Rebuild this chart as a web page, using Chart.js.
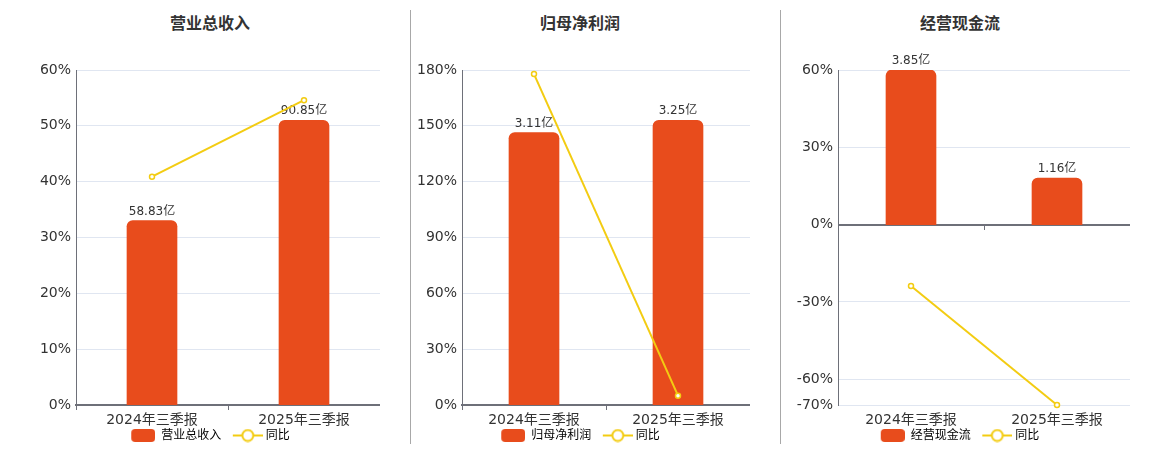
<!DOCTYPE html>
<html lang="zh">
<head>
  <meta charset="UTF-8" />
  <title>三季报财务指标</title>
  <script src="https://cdn.jsdelivr.net/npm/chart.js"></script>
  <style>
    body { margin: 0; width: 1160px; height: 450px; position: relative; background: #fff; overflow: hidden; }
    .titulo { position: absolute; top: 12px; transform: translateX(-50%); white-space: nowrap;
              font: bold 16px/20px "Noto Sans CJK SC", sans-serif; color: #333; }
    .sep { position: absolute; top: 10px; width: 1px; height: 434px; background: #a8a8a8; z-index: 2; }
    canvas { position: absolute; top: 0; }
  </style>
</head>
<body>
  <div class="titulo" style="left:210px">营业总收入</div>
  <div class="titulo" style="left:580px">归母净利润</div>
  <div class="titulo" style="left:960px">经营现金流</div>
  <div class="sep" style="left:410px"></div>
  <div class="sep" style="left:780px"></div>
  <canvas id="g1" width="351" height="450" style="left:29px"></canvas>
  <canvas id="g2" width="351" height="450" style="left:399px"></canvas>
  <canvas id="g3" width="352" height="450" style="left:778px"></canvas>

  <script>
    // datos
    const categorias = ['2024年三季报', '2025年三季报'];
    const ingresos = [58.83, 90.85];
    const ingresosYoy = [40.9, 54.6];
    const beneficio = [3.11, 3.25];
    const beneficioYoy = [177.8, 5.0];
    const flujoCaja = [3.85, 1.16];
    const flujoCajaYoy = [-23.8, -70.0];
    const ticks1 = [0, 10, 20, 30, 40, 50, 60];
    const ticks2 = [0, 30, 60, 90, 120, 150, 180];
    const ticks3 = [-70, -60, -30, 0, 30, 60];

    const COLOR_BARRA = '#e84c1c';
    const COLOR_LINEA = '#f3cc12';
    const FUENTE = '"DejaVu Sans", "Noto Sans CJK SC", sans-serif';
    Chart.defaults.font.family = FUENTE;

    function iconoBarra() {
      const c = document.createElement('canvas');
      c.width = 36; c.height = 13;
      const g = c.getContext('2d');
      g.fillStyle = COLOR_BARRA;
      g.beginPath();
      g.roundRect(12, 0, 24, 13, 4);
      g.fill();
      return c;
    }

    function iconoLinea() {
      const c = document.createElement('canvas');
      c.width = 42; c.height = 14;
      const g = c.getContext('2d');
      g.strokeStyle = COLOR_LINEA;
      g.lineWidth = 2;
      g.beginPath(); g.moveTo(12, 7); g.lineTo(42, 7); g.stroke();
      g.beginPath(); g.arc(27, 7, 5.5, 0, Math.PI * 2);
      g.fillStyle = '#fff'; g.fill(); g.stroke();
      return c;
    }

    const etiquetasBarras = {
      id: 'etiquetasBarras',
      afterDatasetDraw(chart, args) {
        if (args.index !== 0) return;
        const ctx = chart.ctx;
        ctx.save();
        ctx.font = '12px ' + FUENTE;
        ctx.fillStyle = '#333';
        ctx.textAlign = 'center';
        ctx.textBaseline = 'alphabetic';
        args.meta.data.forEach((bar, i) => {
          ctx.fillText(chart.data.datasets[0].data[i] + '亿', bar.x, bar.y - 6);
        });
        ctx.restore();
      }
    };

    const lineaCero = {
      id: 'lineaCero',
      beforeDatasetsDraw(chart, args, opts) {
        if (!opts.activo) return;
        const ctx = chart.ctx;
        const x = chart.scales.x;
        const y0 = Math.round(chart.scales.y.getPixelForValue(0));
        ctx.save();
        ctx.strokeStyle = '#6e7079';
        ctx.lineWidth = 2;
        ctx.beginPath();
        ctx.moveTo(chart.chartArea.left, y0);
        ctx.lineTo(chart.chartArea.right, y0);
        ctx.stroke();
        ctx.lineWidth = 1;
        for (let i = 0; i <= chart.data.labels.length; i++) {
          const px = Math.round(x.getPixelForValue(i - 0.5)) + 0.5;
          ctx.beginPath();
          ctx.moveTo(px, y0);
          ctx.lineTo(px, y0 + 5);
          ctx.stroke();
        }
        ctx.restore();
      }
    };

    function crearGrafico(id, nombre, barras, yoy, ticks, relleno, anchoEje, conCero) {
      const yMin = ticks[0];
      const yMax = ticks[ticks.length - 1];
      const barMax = Math.max(...barras) / relleno;
      const barMin = barMax * yMin / yMax;

      new Chart(document.getElementById(id), {
        data: {
          labels: categorias,
          datasets: [
            {
              type: 'bar',
              label: nombre,
              data: barras,
              yAxisID: 'y1',
              backgroundColor: COLOR_BARRA,
              barThickness: 50,
              borderRadius: 6,
              order: 1
            },
            {
              type: 'line',
              label: '同比',
              data: yoy,
              yAxisID: 'y',
              borderColor: COLOR_LINEA,
              borderWidth: 2,
              pointRadius: 2.5,
              pointBorderWidth: 1.5,
              pointBackgroundColor: '#fff',
              pointBorderColor: COLOR_LINEA,
              tension: 0,
              clip: false,
              order: 0
            }
          ]
        },
        options: {
          responsive: false,
          animation: false,
          layout: { autoPadding: false, padding: { top: 70, bottom: 0, left: 0, right: 0 } },
          scales: {
            x: {
              afterFit: s => { s.height = 22; },
              ticks: { color: '#333', font: { size: 14, lineHeight: 1 }, padding: 3, maxRotation: 0 },
              grid: { drawOnChartArea: false, drawTicks: true, tickLength: 5, color: conCero ? 'transparent' : '#6e7079' },
              border: { display: !conCero, color: '#6e7079', width: 2 }
            },
            y: {
              min: yMin,
              max: yMax,
              afterBuildTicks: s => { s.ticks = ticks.map(v => ({ value: v })); },
              afterFit: s => { s.width = anchoEje; },
              ticks: { callback: v => v + '%', color: '#333', font: { size: 14 }, padding: 5 },
              grid: { color: '#e0e6f1', drawTicks: false },
              border: { color: '#6e7079', width: 1 }
            },
            y1: {
              display: false,
              min: barMin,
              max: barMax
            }
          },
          plugins: {
            tooltip: { enabled: false },
            lineaCero: { activo: conCero },
            legend: {
              position: 'bottom',
              maxHeight: 23,
              labels: {
                usePointStyle: true,
                pointStyleWidth: 36,
                padding: 2.5,
                color: '#555',
                font: { size: 12 },
                generateLabels: () => [
                  { text: nombre, pointStyle: iconoBarra(), fillStyle: COLOR_BARRA, strokeStyle: COLOR_BARRA, lineWidth: 0, hidden: false, datasetIndex: 0 },
                  { text: '同比', pointStyle: iconoLinea(), fillStyle: '#fff', strokeStyle: COLOR_LINEA, lineWidth: 0, hidden: false, datasetIndex: 1 }
                ]
              }
            }
          }
        },
        plugins: [etiquetasBarras, lineaCero]
      });
    }

    crearGrafico('g1', '营业总收入', ingresos, ingresosYoy, ticks1, 0.85, 47, false);
    crearGrafico('g2', '归母净利润', beneficio, beneficioYoy, ticks2, 0.85, 63, false);
    crearGrafico('g3', '经营现金流', flujoCaja, flujoCajaYoy, ticks3, 1, 60, true);
  </script>
</body>
</html>
